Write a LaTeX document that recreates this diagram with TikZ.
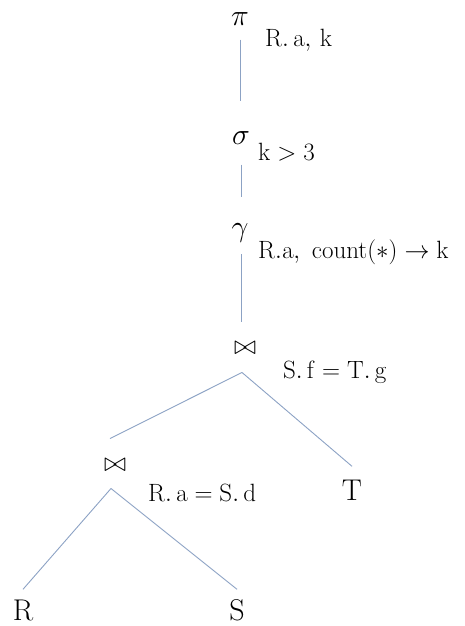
\RequirePackage{fix-cm}
\documentclass[tikz,border=0pt]{standalone}
\usepackage{amsmath}
\definecolor{linec}{RGB}{140,162,196}
\tikzset{
  op/.style={inner sep=0pt, font=\fontsize{30}{34}\selectfont},
  joinop/.style={inner sep=0pt, font=\fontsize{27}{30}\selectfont},
  lab/.style={inner sep=0pt, anchor=base west, font=\fontsize{25}{29}\selectfont},
  relname/.style={inner sep=0pt, anchor=base, font=\fontsize{30}{34}\selectfont},
  edge/.style={draw=linec, line width=0.9pt}
}
\begin{document}
\begin{tikzpicture}[x=1pt,y=-1pt]
\useasboundingbox (0,0) rectangle (465,626);
% operators
\node[op] (pi) at (240,19) {$\pi$};
\node[lab] (pil) at (265,47) {$\mathrm{R.\,a,\,k}$};
\node[op] (sg) at (241,138) {$\sigma$};
\node[lab] (sgl) at (258,160) {$\mathrm{k}>3$};
\node[op,anchor=base] (gm) at (240,236) {$\gamma$};
\node[lab] (gml) at (258,258) {$\mathrm{R.a,\ count}(\ast)\rightarrow \mathrm{k}$};
\node[joinop] (j1) at (245,348) {$\bowtie$};
\node[lab] (j1l) at (283,378) {$\mathrm{S.\,f}=\mathrm{T.\,g}$};
\node[joinop] (j2) at (115,465) {$\bowtie$};
\node[lab] (j2l) at (148,501) {$\mathrm{R.\,a}=\mathrm{S.\,d}$};
% relations
\node[relname] (T) at (352,500) {$\mathrm{T}$};
\node[relname] (R) at (23,620) {$\mathrm{R}$};
\node[relname] (S) at (237,620) {$\mathrm{S}$};
% connectors
\draw[edge] ([yshift=-14pt]pi.south) -- ([xshift=-1pt,yshift=30pt]sg.north);
\draw[edge] ([yshift=-20pt]sg.south) -- ([xshift=1pt,yshift=26pt]gm.north);
\draw[edge] ([xshift=1pt,yshift=-12pt]gm.south) -- ([xshift=-4pt,yshift=20pt]j1.north);
\draw[edge] ([xshift=-3pt,yshift=-18pt]j1.south) -- ([xshift=-5pt,yshift=20pt]j2.north);
\draw[edge] ([xshift=-3pt,yshift=-18pt]j1.south) -- ([yshift=13pt]T.north);
\draw[edge] ([xshift=-4pt,yshift=-17pt]j2.south) -- ([yshift=10pt]R.north);
\draw[edge] ([xshift=-4pt,yshift=-17pt]j2.south) -- ([yshift=10pt]S.north);
\end{tikzpicture}
\end{document}
